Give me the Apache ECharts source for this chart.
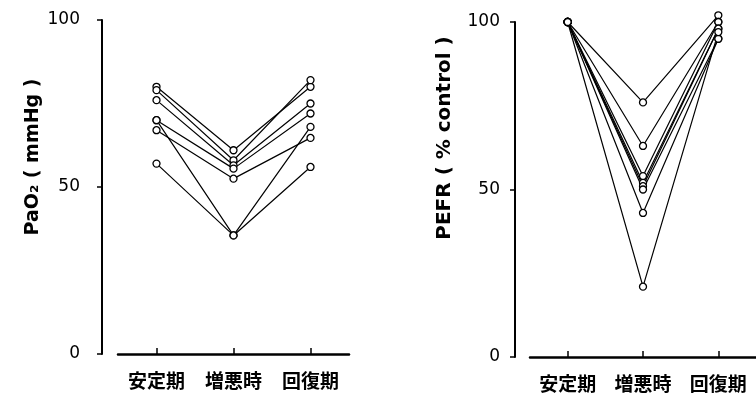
<!DOCTYPE html>
<html>
<head>
<meta charset="utf-8">
<script src="https://cdn.jsdelivr.net/npm/echarts@6/dist/echarts.min.js"></script>
<style>
html,body{margin:0;padding:0;background:#fff;}
#chart{width:756px;height:396px;}
</style>
</head>
<body>
<div id="chart"></div>
<script>
// Categories (phases)
var categories = ['安定期', '増悪時', '回復期'];
// Y tick labels
var yTicks = [0, 50, 100];

// Left panel: PaO2 (mmHg), one entry per patient
var pao2Stable   = [80, 79, 76, 70, 67, 70, 57];
var pao2Exacerb  = [61, 58, 56.5, 55.5, 52.5, 35.5, 35.5];
var pao2Recovery = [80, 82, 75, 72, 64.7, 68, 56];

// Right panel: PEFR (% control), one entry per patient
var pefrStable   = [100, 100, 100, 100, 100, 100, 100, 100];
var pefrExacerb  = [76, 63, 54, 52, 51, 50, 43, 21];
var pefrRecovery = [102, 100, 100, 98, 98, 95, 95, 97];

var chart = echarts.init(document.getElementById('chart'));

function lineSeries(gridIdx, a, b, c) {
  var out = [];
  for (var i = 0; i < a.length; i++) {
    out.push({
      type: 'line',
      xAxisIndex: gridIdx,
      yAxisIndex: gridIdx,
      data: [a[i], b[i], c[i]],
      symbol: 'circle',
      symbolSize: 7,
      clip: false,
      silent: true,
      animation: false,
      lineStyle: { color: '#000', width: 1.2 },
      itemStyle: { color: '#fff', borderColor: '#000', borderWidth: 1.3 }
    });
  }
  return out;
}

function yAx(gridIdx, offset, margin) {
  return {
    type: 'value', gridIndex: gridIdx, min: 0, max: 100, interval: 50,
    offset: offset,
    axisLine: { show: true, lineStyle: { color: '#000', width: 2 } },
    axisTick: { show: true, length: 5, lineStyle: { color: '#000', width: 1.5 } },
    axisLabel: { margin: margin, color: '#000', fontSize: 17, fontFamily: 'DejaVu Sans',
      formatter: function (v) { return yTicks.indexOf(v) >= 0 ? String(v) : ''; } },
    splitLine: { show: false }
  };
}

function xAx(gridIdx) {
  return {
    type: 'category', gridIndex: gridIdx, data: categories, boundaryGap: true,
    axisLine: { show: true, lineStyle: { color: '#000', width: 2.5 } },
    axisTick: { show: true, inside: true, alignWithLabel: true, length: 6, lineStyle: { color: '#000', width: 1.5 } },
    axisLabel: { margin: 17, color: '#000', fontSize: 19, fontWeight: 'bold', fontFamily: 'Noto Sans CJK JP' },
    splitLine: { show: false }
  };
}

var option = {
  backgroundColor: '#fff',
  animation: false,
  grid: [
    { left: 118, top: 20, width: 231, height: 334 },
    { left: 530, top: 22, width: 231, height: 335 }
  ],
  xAxis: [xAx(0), xAx(1)],
  yAxis: [yAx(0, 16, 22), yAx(1, 15, 15)],
  series: lineSeries(0, pao2Stable, pao2Exacerb, pao2Recovery)
    .concat(lineSeries(1, pefrStable, pefrExacerb, pefrRecovery)),
  graphic: [
    { type: 'text', x: 33, y: 157, rotation: Math.PI / 2,
      style: { text: 'PaO₂ ( mmHg )', fill: '#000', font: 'bold 19px "DejaVu Sans"',
        textAlign: 'center', textVerticalAlign: 'middle' } },
    { type: 'text', x: 445, y: 138, rotation: Math.PI / 2,
      style: { text: 'PEFR ( % control )', fill: '#000', font: 'bold 20px "DejaVu Sans"',
        textAlign: 'center', textVerticalAlign: 'middle' } }
  ]
};
chart.setOption(option);
</script>
</body>
</html>
